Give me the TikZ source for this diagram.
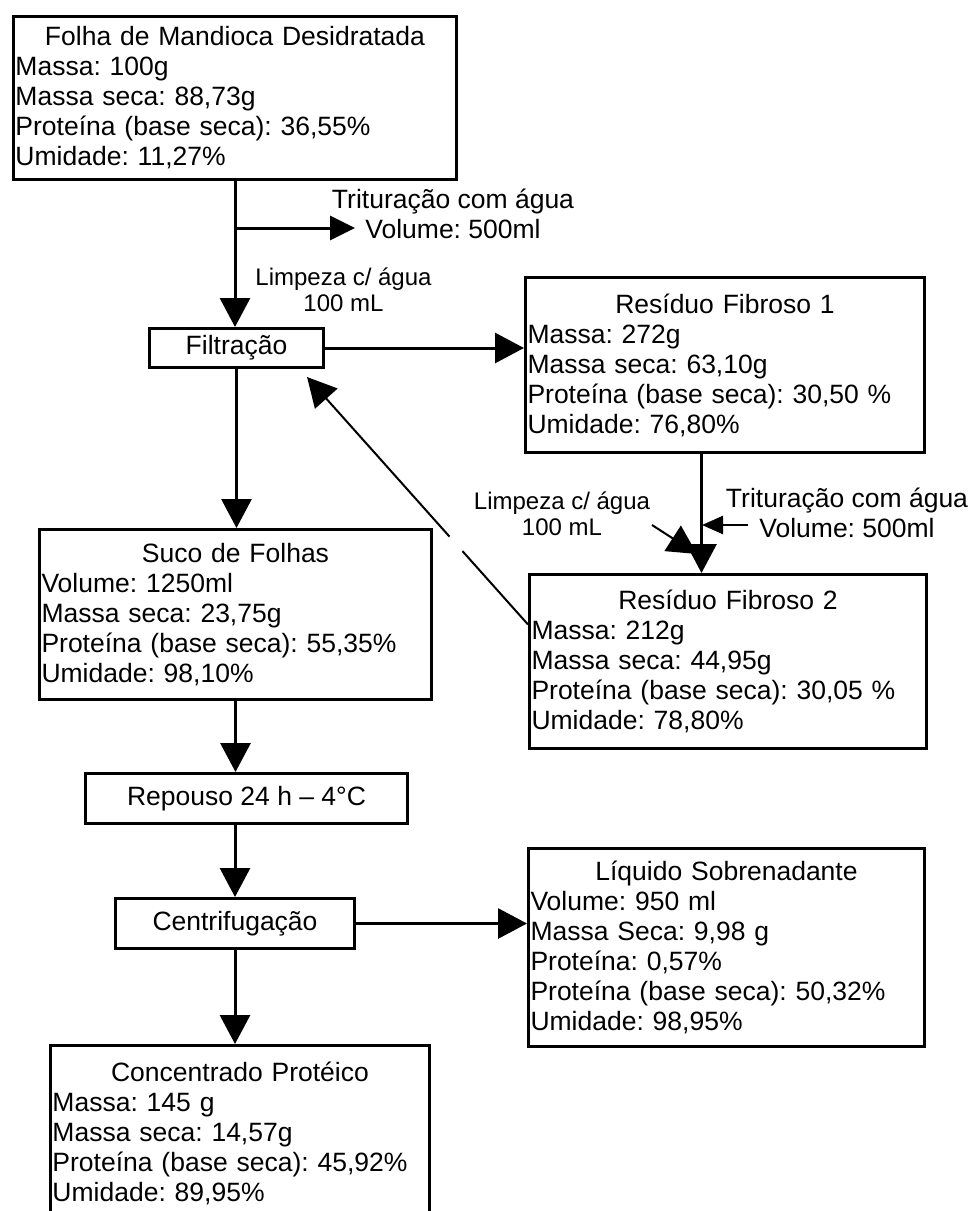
\documentclass[tikz,border=0pt]{standalone}
\usepackage{fontspec}
\setmainfont{Liberation Sans}
\usetikzlibrary{arrows.meta}
\frenchspacing
\newcommand{\boxtitle}[1]{\makebox[\linewidth]{#1}\\}

\begin{document}
\begin{tikzpicture}[x=0.5pt, y=-0.5pt,
    every node/.style={font=\fontsize{13.25pt}{15pt}\selectfont},
    databox/.style={draw, line width=1.5pt, anchor=north west, align=left, inner xsep=1pt, inner ysep=0pt},
    stepbox/.style={draw, line width=1.5pt, anchor=north west, inner sep=0pt},
    labeltext/.style={align=center, inner sep=0pt},
    smalltext/.style={font=\fontsize{12pt}{13pt}\selectfont},
    flow/.style={line width=1.5pt, -{Triangle[length=14.5pt,width=15pt]}}]
          \clip (0,0) rectangle (973,1211);
          \node [databox, text width=219.5pt, minimum width=221.5pt, minimum height=81.5pt] (folha) at (12,15)
                {\boxtitle{Folha de Mandioca Desidratada}Massa: 100g\\Massa seca: 88,73g\\Proteína (base seca): 36,55\%\\Umidade: 11,27\%};
          \node [stepbox, minimum width=87pt, minimum height=19.5pt] (filtr) at (148,327) {Filtração};
          \node [databox, text width=197.5pt, minimum width=199.5pt, minimum height=87.5pt] (res1) at (524,276)
                {\boxtitle{Resíduo Fibroso 1}Massa: 272g\\Massa seca: 63,10g\\Proteína (base seca): 30,50 \%\\Umidade: 76,80\%};
          \node [databox, text width=196.5pt, minimum width=198.5pt, minimum height=87pt] (res2) at (528,573)
                {\boxtitle{Resíduo Fibroso 2}Massa: 212g\\Massa seca: 44,95g\\Proteína (base seca): 30,05 \%\\Umidade: 78,80\%};
          \node [databox, text width=194pt, minimum width=196pt, minimum height=85pt] (suco) at (38,528)
                {\boxtitle{Suco de Folhas}Volume: 1250ml\\Massa seca: 23,75g\\Proteína (base seca): 55,35\%\\Umidade: 98,10\%};
          \node [stepbox, minimum width=161pt, minimum height=25pt] (repouso) at (84,772) {Repouso 24 h – 4°C};
          \node [stepbox, minimum width=119.5pt, minimum height=25pt] (centrif) at (114,897) {Centrifugação};
          \node [databox, text width=196pt, minimum width=198pt, minimum height=99pt] (liquido) at (527,847)
                {\boxtitle{Líquido Sobrenadante}Volume: 950 ml\\Massa Seca: 9,98 g\\Proteína: 0,57\%\\Proteína (base seca): 50,32\%\\Umidade: 98,95\%};
          \node [databox, text width=187.5pt, minimum width=189.5pt, minimum height=88pt] (concentr) at (49,1044)
                {\boxtitle{Concentrado Protéico}Massa: 145 g\\Massa seca: 14,57g\\Proteína (base seca): 45,92\%\\Umidade: 89,95\%};
          \node [labeltext] (trit1) at (453,214) {Trituração com água\\Volume: 500ml};
          \node [labeltext, smalltext] (limp1) at (343.5,290) {Limpeza c/ água\\100 mL};
          \node [labeltext] (trit2) at (847,513) {Trituração com água\\Volume: 500ml};
          \node [labeltext, smalltext] (limp2) at (562,514) {Limpeza c/ água\\100 mL};
          \coordinate (trit1tip) at (355,228);
          \coordinate (trit2start) at (748,525);
          \coordinate (trit2tip) at (702,525);
          \coordinate (limp2start) at (652,525);
          \coordinate (limp2tip) at (697,554);
          \coordinate (backtip) at (307,377);
          \draw [flow] (folha.south) -- (folha.south |- filtr.north);
          \draw [flow, -{Triangle[length=12.5pt,width=12pt]}] (folha.south |- trit1tip) -- (trit1tip);
          \draw [flow] (filtr.east) -- (filtr.east -| res1.west);
          \draw [flow] (filtr.south) -- (filtr.south |- suco.north);
          \draw [flow] ([xshift=-11.75pt]res1.south) -- ([xshift=-11.75pt]res1.south |- res2.north);
          \draw [flow, line width=1.2pt, -{Triangle[length=10.5pt,width=9pt]}] (trit2start) -- (trit2tip);
          \draw [flow, line width=1pt] (limp2start) -- (limp2tip);
          % the short break in this line is in the original too
          \draw [flow, line width=1pt, dash pattern=on 49.2pt off 9.7pt on 400pt] ([yshift=18.5pt]res2.west) -- (backtip);
          \draw [flow] (suco.south) -- (suco.south |- repouso.north);
          \draw [flow] (repouso.south -| centrif.north) -- (centrif.north);
          \draw [flow] (centrif.east) -- (centrif.east -| liquido.west);
          \draw [flow] (centrif.south) -- (centrif.south |- concentr.north);
        \end{tikzpicture}
\end{document}
